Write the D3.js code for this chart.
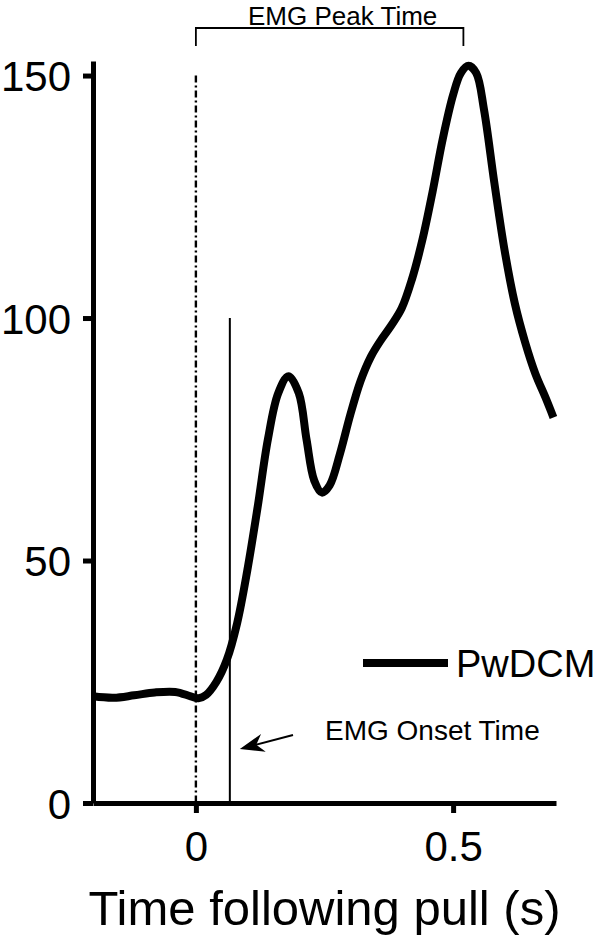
<!DOCTYPE html>
<html>
<head>
<meta charset="utf-8">
<script src="https://cdn.jsdelivr.net/npm/d3@7"></script>
<style>
  body { margin: 0; background: #fff; }
  svg { display: block; font-family: "Liberation Sans", Arial, sans-serif; }
</style>
</head>
<body>
<svg id="chart" width="600" height="936"></svg>
<script>
// EMG trace, time (s) following pull vs amplitude
const times  = [-0.20, -0.16, -0.12, -0.08, -0.04, -0.01, 0.005, 0.02, 0.04, 0.06, 0.08, 0.10, 0.12, 0.14, 0.16,
                0.18, 0.20, 0.215, 0.23, 0.245, 0.26, 0.28, 0.30, 0.32, 0.34, 0.36, 0.38, 0.40, 0.42, 0.44,
                0.46, 0.48, 0.50, 0.515, 0.53, 0.545, 0.56, 0.58, 0.60, 0.62, 0.64, 0.66, 0.68, 0.695];
const values = [22.0, 21.7, 22.2, 22.8, 22.9, 22.0, 21.6, 22.3, 25, 29.5, 37, 48, 61, 75, 84.5,
                88, 84.5, 75, 66.5, 64, 65.5, 72, 80, 87, 92, 95.5, 98.5, 102, 108, 116,
                126, 137, 146, 150.5, 152, 150.5, 143, 128, 114, 103, 95, 88.5, 83.5, 79.5];

const xTicks = [0, 0.5];
const yTicks = [0, 50, 100, 150];
const seriesName = 'PwDCM';

const onsetTime = 0.066, onsetTop = 100;   // EMG onset marker
const pullTime = 0, pullTop = 150;         // dashed line at pull
const peakTime = 0.52;                     // end of the peak-time bracket

const svg = d3.select('#chart');
const x = d3.scaleLinear().domain([-0.2, 0.7]).range([93, 556]);
const y = d3.scaleLinear().domain([0, 153]).range([803, 61]);

// axes
const yAxis = svg.append('g').attr('transform', `translate(${x.range()[0]},0)`)
  .call(d3.axisLeft(y).tickValues(yTicks).tickFormat(d3.format('d')).tickSize(10).tickSizeOuter(0).tickPadding(12));
const xAxis = svg.append('g').attr('transform', `translate(0,${y(0)})`)
  .call(d3.axisBottom(x).tickValues(xTicks).tickFormat(d => d === 0 ? '0' : d3.format('.1f')(d)).tickSize(10).tickSizeOuter(0).tickPadding(6));

[yAxis, xAxis].forEach(g => {
  g.select('.domain').attr('stroke', '#000').attr('stroke-width', 5);
  g.selectAll('.tick line').attr('stroke', '#000').attr('stroke-width', 5);
  g.selectAll('.tick text').attr('fill', '#000').style('font-size', '42px');
});
yAxis.selectAll('.tick text').attr('dy', '0.36em');
xAxis.selectAll('.tick text').attr('dy', '1.0em');

// dashed line at time of pull
svg.append('line')
  .attr('x1', x(pullTime)).attr('x2', x(pullTime))
  .attr('y1', y(pullTop)).attr('y2', y(0))
  .attr('stroke', '#000').attr('stroke-width', 2.4).attr('stroke-dasharray', '7,3,2,3');

// onset line
svg.append('line')
  .attr('x1', x(onsetTime)).attr('x2', x(onsetTime))
  .attr('y1', y(onsetTop)).attr('y2', y(0) + 3)
  .attr('stroke', '#000').attr('stroke-width', 2);

// trace
const line = d3.line().x((d, i) => x(times[i])).y(d => y(d)).curve(d3.curveCatmullRom.alpha(0.5));
svg.append('path').datum(values)
  .attr('d', line).attr('fill', 'none').attr('stroke', '#000').attr('stroke-width', 8);

// legend
svg.append('line').attr('x1', 363).attr('x2', 448).attr('y1', 663).attr('y2', 663)
  .attr('stroke', '#000').attr('stroke-width', 8);
svg.append('text').attr('x', 456).attr('y', 663).attr('dy', '0.36em')
  .style('font-size', '38px').text(seriesName);

// EMG onset annotation: arrow pointing at the onset line
const tail = [293, 735], tip = [x(onsetTime) + 10, 749];
const ang = Math.atan2(tail[1] - tip[1], tail[0] - tip[0]);
const pt = (d, a) => [tip[0] + d * Math.cos(ang + a), tip[1] + d * Math.sin(ang + a)];
svg.append('line').attr('x1', tail[0]).attr('y1', tail[1]).attr('x2', pt(14, 0)[0]).attr('y2', pt(14, 0)[1])
  .attr('stroke', '#000').attr('stroke-width', 2);
svg.append('path')
  .attr('d', 'M' + [tip, pt(26, 0.36), pt(17, 0), pt(26, -0.36)].map(p => p.join(',')).join('L') + 'Z')
  .attr('fill', '#000');
svg.append('text').attr('x', 325).attr('y', 740).style('font-size', '28px').text('EMG Onset Time');

// EMG peak time bracket
svg.append('path')
  .attr('d', `M${x(pullTime)},46 V28 H${x(peakTime)} V46`)
  .attr('fill', 'none').attr('stroke', '#000').attr('stroke-width', 1.8);
svg.append('text').attr('x', 248).attr('y', 25).style('font-size', '26px').text('EMG Peak Time');

// axis title
svg.append('text').attr('x', (x.range()[0] + x.range()[1]) / 2).attr('y', 925)
  .attr('text-anchor', 'middle').style('font-size', '49px').text('Time following pull (s)');
</script>
</body>
</html>
